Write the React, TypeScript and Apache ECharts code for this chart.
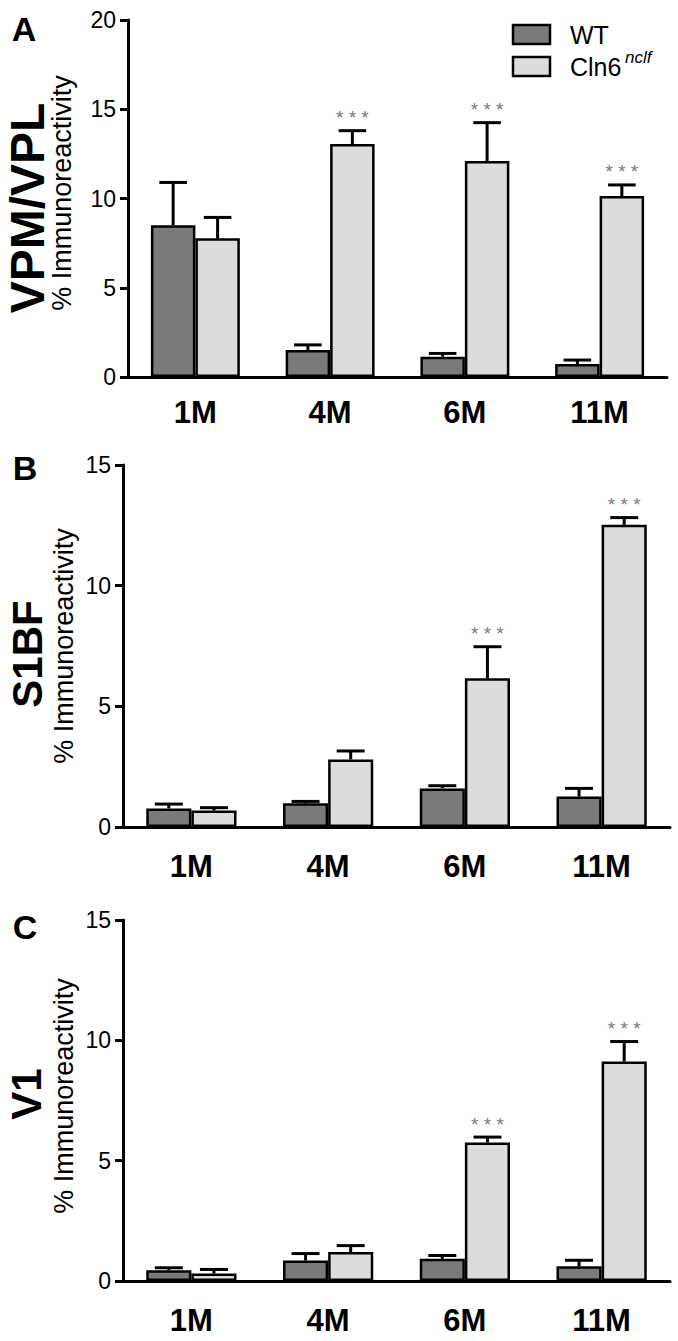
import React, { useEffect, useRef } from "react";
import * as echarts from "echarts";

const categories = ["1M", "4M", "6M", "11M"];

// Panel A: VPM/VPL
const wtA = [8.5, 1.51, 1.14, 0.73];
const wtAErr = [2.4, 0.29, 0.18, 0.22];
const clnA = [7.77, 13.05, 12.1, 10.14];
const clnAErr = [1.17, 0.75, 2.15, 0.62];
const sigA = [0, 1, 1, 1];

// Panel B: S1BF
const wtB = [0.77, 0.98, 1.6, 1.26];
const wtBErr = [0.18, 0.08, 0.11, 0.34];
const clnB = [0.68, 2.8, 6.16, 12.52];
const clnBErr = [0.12, 0.35, 1.31, 0.3];
const sigB = [0, 0, 1, 1];

// Panel C: V1
const wtC = [0.45, 0.85, 0.92, 0.61];
const wtCErr = [0.1, 0.29, 0.14, 0.25];
const clnC = [0.31, 1.2, 5.76, 9.12];
const clnCErr = [0.17, 0.27, 0.22, 0.83];
const sigC = [0, 0, 1, 1];

const yMaxA = 20;
const yMaxB = 15;
const yMaxC = 15;
const yInterval = 5;

const regionNames = ["VPM/VPL", "S1BF", "V1"];
const panelLetters = ["A", "B", "C"];
const yAxisTitle = "% Immunoreactivity";
const seriesNames = ["WT", "Cln6"];

const WT_COLOR = "#7a7a7a";
const CLN_COLOR = "#dcdcdc";
const FONT = "Liberation Sans";
const GAP = 0.34;

const panels = [
  { wt: wtA, wtErr: wtAErr, cln: clnA, clnErr: clnAErr, sig: sigA, max: yMaxA,
    grid: { left: 128, right: 11, top: 20, height: 357 }, labelMargin: 20 },
  { wt: wtB, wtErr: wtBErr, cln: clnB, clnErr: clnBErr, sig: sigB, max: yMaxB,
    grid: { left: 123, right: 8, top: 465, height: 362 }, labelMargin: 24 },
  { wt: wtC, wtErr: wtCErr, cln: clnC, clnErr: clnCErr, sig: sigC, max: yMaxC,
    grid: { left: 123, right: 8, top: 920, height: 361 }, labelMargin: 24 },
];

const textLayout = [
  { letter: [24, 29], region: [27, 208], regionSize: 48, title: [62, 193] },
  { letter: [25, 468], region: [27, 654], regionSize: 42, title: [64, 646] },
  { letter: [25, 927], region: [26, 1094], regionSize: 42, title: [64, 1096] },
];

function renderErr(params: any, api: any) {
  const cat = api.value(0);
  const grp = api.value(1);
  const mean = api.value(2);
  const err = api.value(3);
  const sig = api.value(4);
  const base = api.coord([cat, mean]);
  const band = api.size([1, 0])[0];
  const bw = (band * (1 - GAP)) / 2;
  const x = base[0] + (grp === 0 ? -bw / 2 : bw / 2);
  const top = api.coord([cat, mean + err])[1];
  const cap = bw * 0.62;
  const children: any[] = [
    { type: "line", shape: { x1: x, y1: base[1], x2: x, y2: top }, style: { stroke: "#000", lineWidth: 3 } },
    { type: "line", shape: { x1: x - cap / 2, y1: top, x2: x + cap / 2, y2: top }, style: { stroke: "#000", lineWidth: 3 } },
  ];
  if (sig) {
    children.push({
      type: "text",
      x: x,
      y: top - 13,
      style: { text: "* * *", fill: "#7a7a7a", fontSize: 19, fontFamily: FONT, textAlign: "center", textVerticalAlign: "middle" },
    });
  }
  return { type: "group", children };
}

export default function App() {
  const ref = useRef<HTMLDivElement>(null);
  useEffect(() => {
    document.body.style.margin = "0";
    const chart = echarts.init(ref.current!, null, { renderer: "svg" });
    const grids: any[] = [];
    const xAxes: any[] = [];
    const yAxes: any[] = [];
    const series: any[] = [];
    panels.forEach((p, i) => {
      grids.push({ ...p.grid });
      xAxes.push({
        type: "category",
        gridIndex: i,
        data: categories,
        axisLine: { lineStyle: { color: "#000", width: 3 } },
        axisTick: { show: false },
        axisLabel: { color: "#000", fontSize: 31, fontWeight: "bold", fontFamily: FONT, margin: p.labelMargin },
      });
      yAxes.push({
        type: "value",
        gridIndex: i,
        min: 0,
        max: p.max,
        interval: yInterval,
        axisLine: { show: true, lineStyle: { color: "#000", width: 3 } },
        axisTick: { show: true, length: 8, lineStyle: { color: "#000", width: 3 } },
        splitLine: { show: false },
        axisLabel: { color: "#000", fontSize: 23, fontFamily: FONT, margin: 12 },
      });
      series.push({
        name: seriesNames[0], type: "bar", xAxisIndex: i, yAxisIndex: i, data: p.wt,
        barGap: "0%", barCategoryGap: GAP * 100 + "%",
        itemStyle: { color: WT_COLOR, borderColor: "#000", borderWidth: 2.5 },
      });
      series.push({
        name: seriesNames[1], type: "bar", xAxisIndex: i, yAxisIndex: i, data: p.cln,
        barGap: "0%", barCategoryGap: GAP * 100 + "%",
        itemStyle: { color: CLN_COLOR, borderColor: "#000", borderWidth: 2.5 },
      });
      const errData: any[] = [];
      categories.forEach((_, k) => {
        errData.push([k, 0, p.wt[k], p.wtErr[k], 0]);
        errData.push([k, 1, p.cln[k], p.clnErr[k], p.sig[k]]);
      });
      series.push({
        type: "custom", xAxisIndex: i, yAxisIndex: i, data: errData, renderItem: renderErr,
        encode: { x: 0, y: 2 }, z: 5, clip: false, silent: true,
      });
    });

    const graphics: any[] = [];
    textLayout.forEach((t, i) => {
      graphics.push({
        type: "text", x: t.letter[0], y: t.letter[1],
        style: { text: panelLetters[i], fontSize: 34, fontWeight: "bold", fontFamily: FONT, fill: "#000", textAlign: "center", textVerticalAlign: "middle" },
      });
      graphics.push({
        type: "text", x: t.region[0], y: t.region[1], rotation: Math.PI / 2,
        style: { text: regionNames[i], fontSize: t.regionSize, fontWeight: "bold", fontFamily: FONT, fill: "#000", textAlign: "center", textVerticalAlign: "middle" },
      });
      graphics.push({
        type: "text", x: t.title[0], y: t.title[1], rotation: Math.PI / 2,
        style: { text: yAxisTitle, fontSize: 27, fontFamily: FONT, fill: "#000", textAlign: "center", textVerticalAlign: "middle" },
      });
    });
    // legend
    graphics.push({ type: "rect", shape: { x: 513, y: 25, width: 37, height: 19 }, style: { fill: WT_COLOR, stroke: "#000", lineWidth: 2.5 } });
    graphics.push({ type: "rect", shape: { x: 513, y: 57, width: 37, height: 19 }, style: { fill: CLN_COLOR, stroke: "#000", lineWidth: 2.5 } });
    graphics.push({ type: "text", x: 570, y: 35, style: { text: seriesNames[0], fontSize: 25, fontFamily: FONT, fill: "#000", textVerticalAlign: "middle" } });
    graphics.push({ type: "text", x: 570, y: 67, style: { text: seriesNames[1], fontSize: 25, fontFamily: FONT, fill: "#000", textVerticalAlign: "middle" } });
    graphics.push({ type: "text", x: 625, y: 57, style: { text: "nclf", fontSize: 17, fontStyle: "italic", fontFamily: FONT, fill: "#000", textVerticalAlign: "middle" } });

    chart.setOption({
      animation: false,
      backgroundColor: "#fff",
      grid: grids,
      xAxis: xAxes,
      yAxis: yAxes,
      series,
      graphic: graphics,
    });
    return () => chart.dispose();
  }, []);
  return <div ref={ref} style={{ width: 678, height: 1341 }} />;
}
